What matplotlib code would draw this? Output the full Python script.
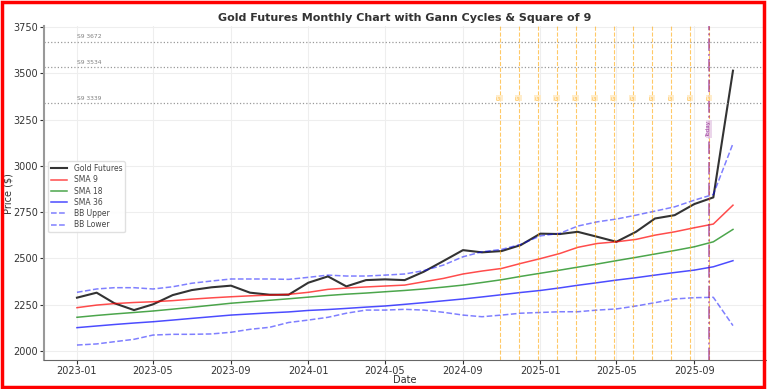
import numpy as np
import pandas as pd
import matplotlib
matplotlib.use("Agg")
import matplotlib.pyplot as plt
import matplotlib.patches as mpatches

# monthly data, 2023-01 .. 2025-11
dates = pd.date_range("2023-01-01", "2025-11-01", freq="MS")

gold = [2288, 2315, 2258, 2221, 2252, 2302, 2329, 2344, 2353, 2315, 2304, 2304,
        2369, 2403, 2349, 2383, 2387, 2383, 2428, 2486, 2545, 2533, 2540, 2572,
        2634, 2632, 2644, 2617, 2590, 2644, 2716, 2734, 2794, 2830, 3515]
sma9 = [2234, 2248, 2256, 2262, 2266, 2272, 2280, 2287, 2293, 2298, 2302, 2306,
        2317, 2333, 2340, 2346, 2351, 2356, 2374, 2392, 2416, 2432, 2446, 2473,
        2499, 2527, 2560, 2581, 2590, 2603, 2626, 2644, 2666, 2686, 2788]
sma18 = [2182, 2192, 2200, 2208, 2216, 2226, 2236, 2247, 2258, 2266, 2274, 2282,
         2291, 2300, 2307, 2313, 2320, 2327, 2335, 2345, 2356, 2370, 2385, 2403,
         2420, 2437, 2453, 2470, 2488, 2506, 2524, 2543, 2563, 2590, 2657]
sma36 = [2126, 2135, 2143, 2151, 2158, 2167, 2176, 2185, 2194, 2200, 2206, 2211,
         2219, 2224, 2230, 2237, 2243, 2252, 2261, 2271, 2281, 2292, 2304, 2316,
         2327, 2341, 2355, 2369, 2383, 2396, 2410, 2424, 2437, 2455, 2488]
bb_upper = [2317, 2335, 2342, 2342, 2335, 2347, 2366, 2378, 2389, 2389, 2389, 2387,
            2398, 2410, 2405, 2405, 2410, 2416, 2434, 2464, 2509, 2536, 2549, 2576,
            2622, 2636, 2675, 2698, 2713, 2734, 2756, 2779, 2815, 2846, 3121]
bb_lower = [2032, 2038, 2050, 2063, 2086, 2090, 2090, 2092, 2101, 2117, 2128, 2154,
            2167, 2182, 2204, 2221, 2221, 2225, 2221, 2209, 2194, 2185, 2194, 2204,
            2208, 2212, 2212, 2221, 2227, 2243, 2261, 2281, 2288, 2290, 2137]

# Gann cycle dates (30 day steps back from today) and Square of 9 levels
today = pd.Timestamp("2025-09-24")
gann_dates = [today - pd.Timedelta(days=30 * k) for k in range(11, -1, -1)]
sq9_levels = [3339, 3534, 3672]

fig = plt.figure(figsize=(7.67, 3.89), dpi=100)
ax = fig.add_axes([0.0576, 0.074, 0.9408, 0.858])

ax.plot(dates, gold, color="#333333", linewidth=1.5, label="Gold Futures")
ax.plot(dates, sma9, color="red", alpha=0.7, linewidth=1.1, label="SMA 9")
ax.plot(dates, sma18, color="green", alpha=0.7, linewidth=1.1, label="SMA 18")
ax.plot(dates, sma36, color="blue", alpha=0.7, linewidth=1.1, label="SMA 36")
ax.plot(dates, bb_upper, color="blue", alpha=0.5, linestyle="--", linewidth=1.1, label="BB Upper")
ax.plot(dates, bb_lower, color="blue", alpha=0.5, linestyle="--", linewidth=1.1, label="BB Lower")

for lvl in sq9_levels:
    ax.axhline(lvl, color="gray", linestyle=":", linewidth=0.9, alpha=0.8)
    ax.text(dates[0], lvl + 12, f"S9 {lvl}", fontsize=4.3, color="gray", va="bottom")

for d in gann_dates:
    ax.axvline(d, color="orange", linestyle="--", linewidth=0.8, alpha=0.6)
    ax.text(d, 3366, "G", rotation=90, fontsize=4, color="orange", alpha=0.7,
            ha="center", va="center",
            bbox=dict(facecolor="#ffe9c0", edgecolor="none", pad=0.6, alpha=0.8))

ax.axvline(today, color="purple", linestyle="-.", linewidth=1.4, alpha=0.5)
ax.text(today, 3200, "Today", rotation=90, fontsize=4, color="purple", alpha=0.7,
        ha="center", va="center",
        bbox=dict(facecolor="#e6cce6", edgecolor="none", pad=0.6, alpha=0.8))

ax.set_title("Gold Futures Monthly Chart with Gann Cycles & Square of 9",
             fontsize=8, fontweight="bold", color="#333333", pad=4)
ax.set_xlabel("Date", fontsize=7, color="#333333")
ax.set_ylabel("Price ($)", fontsize=7, color="#333333")
ax.xaxis.set_label_coords(0.5, -0.045)
ax.yaxis.set_label_coords(-0.043, 0.5)
ax.set_yticks([2000, 2250, 2500, 2750, 3000, 3250, 3500, 3750])
ax.tick_params(labelsize=7, colors="#333333", length=3, pad=1.5)
ax.grid(True, color="#eeeeee", linewidth=0.8)
for s in ["top", "right"]:
    ax.spines[s].set_visible(False)
ax.spines["left"].set_color("#999999")
ax.spines["left"].set_linewidth(1.5)
ax.spines["bottom"].set_color("#666666")

ax.legend(loc="center left", fontsize=5.5, frameon=True, framealpha=0.9,
          edgecolor="#dddddd", handlelength=2.2, labelspacing=0.3,
          borderpad=0.35, labelcolor="#444444", bbox_to_anchor=(0.0, 0.49))

# red frame round the picture
fig.patches.append(mpatches.Rectangle((0.002, 0.004), 0.994, 0.99, transform=fig.transFigure,
                                      fill=False, edgecolor="red", linewidth=2.5, zorder=50))

plt.savefig("out.png", dpi=100)
